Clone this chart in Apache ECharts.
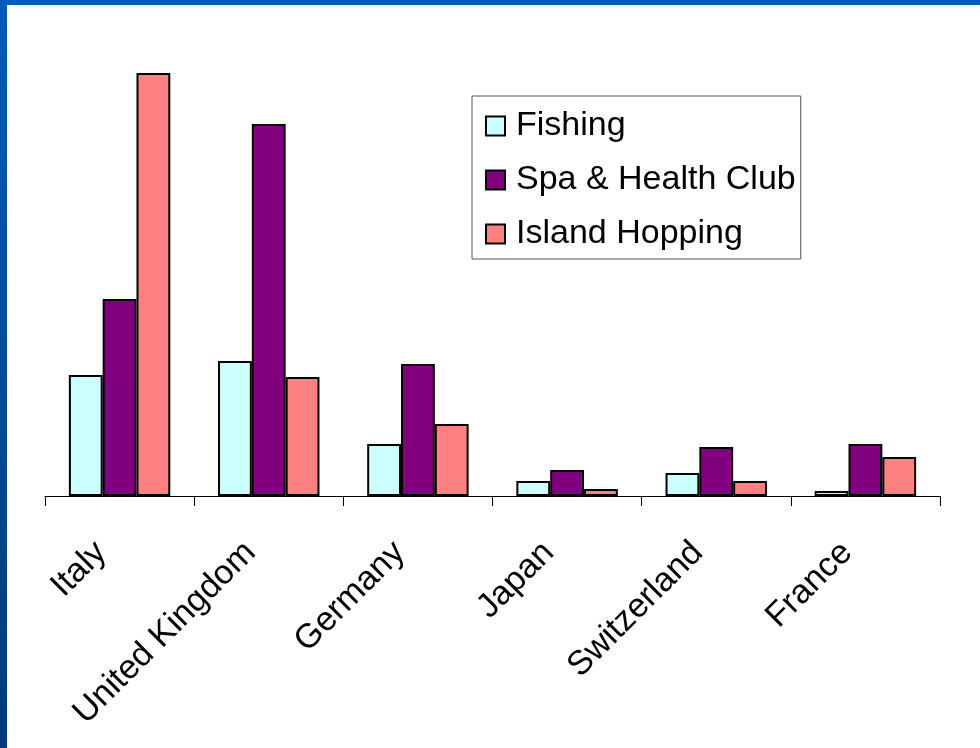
<!DOCTYPE html>
<html>
<head>
<meta charset="utf-8">
<script src="https://cdn.jsdelivr.net/npm/echarts@6/dist/echarts.min.js"></script>
<style>
  html, body { margin: 0; padding: 0; }
  body {
    width: 980px; height: 748px; overflow: hidden; position: relative;
    background: linear-gradient(to bottom, #005bbb 0%, #004c9c 50%, #003a76 100%);
  }
  #paper { position: absolute; left: 7px; top: 5px; right: 0; bottom: 0; background: #ffffff; }
  #chart { position: absolute; left: 0; top: 0; width: 980px; height: 748px; }
</style>
</head>
<body>
<div id="paper"></div>
<div id="chart"></div>
<script>
// Data (relative heights, no value axis shown)
const categories = ['Italy', 'United Kingdom', 'Germany', 'Japan', 'Switzerland', 'France'];
const seriesNames = ['Fishing', 'Spa & Health Club', 'Island Hopping'];
const fishing = [121, 135, 52, 15, 23, 5];
const spaHealthClub = [197, 372, 132, 26, 49, 52];
const islandHopping = [423, 119, 72, 7, 15, 39];
const seriesColors = ['#ccffff', '#800080', '#ff8080'];

const chart = echarts.init(document.getElementById('chart'), null, { renderer: 'canvas' });
const font = 'Liberation Sans, Arial, sans-serif';
const values = [fishing, spaHealthClub, islandHopping];

chart.setOption({
  backgroundColor: 'transparent',
  animation: false,
  grid: { left: 45, right: 40, top: 36, bottom: 252, containLabel: false },
  legend: {
    orient: 'vertical',
    left: 472,
    top: 96,
    padding: [13, 5, 8, 13],
    itemGap: 20,
    itemWidth: 19,
    itemHeight: 19,
    icon: 'rect',
    borderColor: '#555555',
    borderWidth: 1,
    backgroundColor: '#ffffff',
    textStyle: { fontFamily: font, fontSize: 34, color: '#000', lineHeight: 34, padding: [0, 0, 0, 6] },
    data: seriesNames
  },
  xAxis: {
    type: 'category',
    data: categories,
    axisLine: { lineStyle: { color: '#000', width: 1 } },
    axisTick: { show: true, length: 10, lineStyle: { color: '#000', width: 1 } },
    axisLabel: {
      interval: 0,
      rotate: 45,
      margin: 33,
      padding: [0, 26, 0, 0],
      fontFamily: font,
      fontSize: 34,
      color: '#000'
    }
  },
  yAxis: {
    type: 'value',
    min: 0,
    max: 460,
    show: false,
    splitLine: { show: false }
  },
  series: seriesNames.map((name, i) => ({
    name: name,
    type: 'bar',
    data: values[i],
    barGap: '0%',
    barCategoryGap: '32%',
    itemStyle: { color: seriesColors[i], borderColor: '#000', borderWidth: 2 }
  }))
});
</script>
</body>
</html>
